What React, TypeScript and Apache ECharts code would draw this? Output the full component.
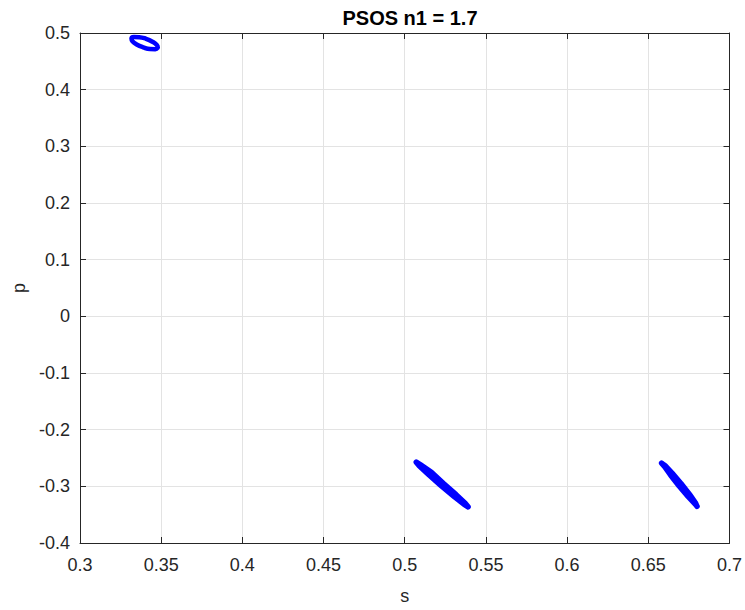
import React, { useEffect, useRef } from "react";
import * as echarts from "echarts";

// Cluster near s≈0.34, p≈0.48 (ring)
const cluster1: number[][] = [
  [0.3479, 0.4741], [0.3464, 0.4715], [0.3431, 0.4717], [0.3389, 0.4748],
  [0.3349, 0.4798], [0.3323, 0.4855], [0.3317, 0.4903], [0.3332, 0.4930],
  [0.3365, 0.4927], [0.3407, 0.4897], [0.3446, 0.4846], [0.3473, 0.4789],
  [0.3479, 0.4741],
];
// Cluster near s≈0.52, p≈-0.3
const cluster2: number[][] = [
  [0.5390, -0.3361], [0.5366, -0.3319], [0.5305, -0.3181], [0.5224, -0.2987],
  [0.5145, -0.2787], [0.5089, -0.2636], [0.5071, -0.2573], [0.5095, -0.2616],
  [0.5164, -0.2753], [0.5237, -0.2947], [0.5316, -0.3147], [0.5372, -0.3299],
  [0.5390, -0.3361],
];
// Cluster near s≈0.67, p≈-0.3
const cluster3: number[][] = [
  [0.6800, -0.3352], [0.6789, -0.3312], [0.6746, -0.3181], [0.6690, -0.2994],
  [0.6637, -0.2800], [0.6601, -0.2653], [0.6582, -0.2591], [0.6602, -0.2631],
  [0.6645, -0.2762], [0.6701, -0.2949], [0.6754, -0.3143], [0.6790, -0.3290],
  [0.6800, -0.3352],
];

const titleText = "PSOS n1 = 1.7";
const xName = "s";
const yName = "p";

const FONT = "'Liberation Sans', Arial, sans-serif";
const fmt = (v: number) => String(parseFloat(v.toFixed(2)));

export default function App() {
  const ref = useRef<HTMLDivElement>(null);
  useEffect(() => {
    if (!ref.current) return;
    document.body.style.margin = "0";
    const chart = echarts.init(ref.current, null, { renderer: "svg" });
    const axisLine = { show: true, onZero: false, lineStyle: { color: "#262626", width: 1 } };
    const tick = { show: true, inside: true, length: 6, lineStyle: { color: "#262626" } };
    const splitLine = { show: true, lineStyle: { color: "#e3e3e3", width: 1 } };
    const label = { color: "#262626", fontSize: 18, fontFamily: FONT };
    const mkSeries = (d: number[][], smooth: boolean, width: number) => ({
      type: "line",
      data: d,
      smooth,
      symbol: "none",
      lineStyle: { color: "#0000ff", width, join: "round", cap: "round" },
      xAxisIndex: 0,
      yAxisIndex: 0,
    });
    chart.setOption({
      animation: false,
      backgroundColor: "#ffffff",
      title: {
        text: titleText,
        left: 405,
        top: 3,
        textAlign: "center",
        textStyle: { fontFamily: FONT, fontSize: 20, fontWeight: "bold", color: "#000" },
      },
      grid: { left: 80, right: 14, top: 33, bottom: 63, containLabel: false },
      xAxis: [
        {
          type: "value", min: 0.3, max: 0.7, interval: 0.05, position: "bottom",
          axisLine, axisTick: tick, splitLine,
          axisLabel: { ...label, margin: 13, formatter: fmt },
          name: xName, nameLocation: "middle", nameGap: 44,
          nameTextStyle: { fontSize: 18, fontFamily: FONT, color: "#262626" },
        },
        {
          type: "value", min: 0.3, max: 0.7, interval: 0.05, position: "top",
          axisLine, axisTick: tick, splitLine: { show: false }, axisLabel: { show: false },
        },
      ],
      yAxis: [
        {
          type: "value", min: -0.4, max: 0.5, interval: 0.1, position: "left",
          axisLine, axisTick: tick, splitLine,
          axisLabel: { ...label, margin: 10, formatter: fmt },
          name: yName, nameLocation: "middle", nameGap: 52,
          nameTextStyle: { fontSize: 18, fontFamily: FONT, color: "#262626" },
        },
        {
          type: "value", min: -0.4, max: 0.5, interval: 0.1, position: "right",
          axisLine, axisTick: tick, splitLine: { show: false }, axisLabel: { show: false },
        },
      ],
      series: [
        mkSeries(cluster1, true, 4.5),
        mkSeries(cluster2, false, 5.5),
        mkSeries(cluster3, false, 5.5),
      ],
    });
    return () => chart.dispose();
  }, []);
  return <div ref={ref} style={{ width: 745, height: 610 }} />;
}
